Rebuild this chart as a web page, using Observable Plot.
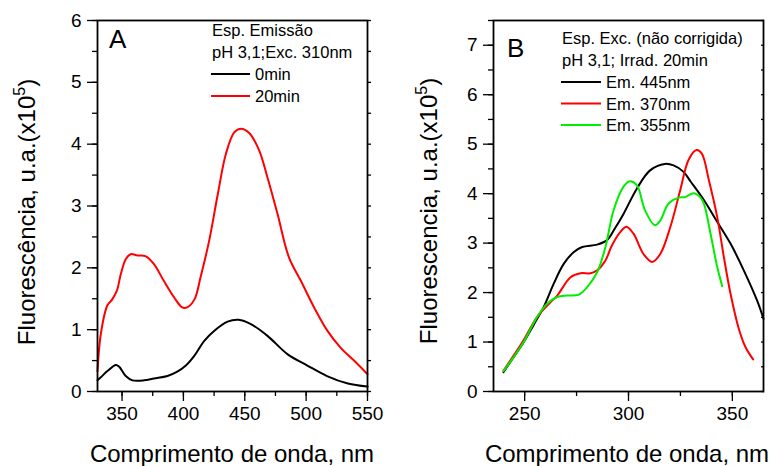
<!DOCTYPE html>
<html><head><meta charset="utf-8">
<script src="https://cdn.jsdelivr.net/npm/d3@7"></script>
<script src="https://cdn.jsdelivr.net/npm/@observablehq/plot@0.6"></script>
<style>
html,body{margin:0;padding:0;background:#fff;}
#wrap{position:relative;width:773px;height:466px;overflow:hidden;font-family:Arial,"Liberation Sans",sans-serif;}
#wrap svg{position:absolute;top:0;}
</style></head><body>
<div id="wrap"></div>
<script>
// ---- Panel A: emission spectra ----
const aWave0 = [330,332.7,338,345,347.7,353,358.5,368,376,387,395,402,409,417,425,436,445,455,468.5,485,501,517,534,550];
const aInt0  = [0.18,0.23,0.33,0.43,0.40,0.25,0.18,0.18,0.21,0.25,0.32,0.42,0.58,0.82,0.98,1.13,1.16,1.09,0.90,0.60,0.42,0.25,0.13,0.08];
const aWave20 = [330,332.7,338,342,345.8,349,353,357,362.6,369,376,384,392.5,399,403,409,414,421,428,434.6,441.4,447,453.6,461.7,468.5,476.7,486,495.7,506.5,517.4,528,539,550];
const aInt20  = [0.33,0.93,1.39,1.49,1.63,1.90,2.14,2.22,2.20,2.19,2.06,1.79,1.52,1.36,1.36,1.49,1.85,2.44,3.19,3.84,4.19,4.25,4.18,3.90,3.46,2.87,2.17,1.79,1.36,0.98,0.71,0.50,0.28];
const aLegend = ["0min","20min"];
const aXTicks = [350,400,450,500,550];
const aYTicks = [0,1,2,3,4,5,6];

// ---- Panel B: excitation spectra ----
const bWave445 = [239.8,244.6,249.6,254.4,259.2,264,268.8,273.7,277.7,284.9,289.7,293.5,297.6,304,310.4,317.5,321.7,326.5,330,336.3,342.7,349.1,355.5,361.9,365];
const bInt445  = [0.39,0.69,1.00,1.35,1.71,2.18,2.58,2.82,2.92,2.97,3.06,3.30,3.59,4.10,4.47,4.60,4.57,4.44,4.24,3.87,3.43,2.99,2.45,1.84,1.47];
const bWave370 = [239.8,244.6,249.4,255.9,262.3,265.7,272.1,276.9,281.7,284.9,288.9,292,296,299,302.4,307.2,311.4,315.3,320.1,324.9,328.9,332.7,335.3,338.7,342.7,345.9,349.1,353.1,356.3,360];
const bInt370  = [0.42,0.72,1.03,1.50,1.80,1.94,2.31,2.39,2.39,2.45,2.65,2.95,3.22,3.33,3.19,2.78,2.62,2.78,3.32,4.07,4.68,4.88,4.81,4.27,3.53,2.72,1.98,1.27,0.90,0.65];
const bWave355 = [239.8,244.6,249.4,255.9,260.7,265.7,270.5,276.1,280.1,284.9,288.9,292.8,297.6,300.6,304,308,312.7,315.3,319.3,324.2,327.3,331.4,334.5,336.3,339.5,342.7,345.1];
const bInt355  = [0.41,0.69,0.99,1.50,1.77,1.91,1.94,1.96,2.11,2.41,2.92,3.66,4.14,4.25,4.17,3.66,3.36,3.46,3.80,3.92,3.93,4.01,3.93,3.80,3.19,2.52,2.13];
const bLegend = ["Em. 445nm","Em. 370nm","Em. 355nm"];
const bXTicks = [250,300,350];
const bYTicks = [0,1,2,3,4,5,6,7];

const zip = (xs, ys) => xs.map((x,i)=>({x, y: ys[i]}));
const FONT = 'Arial,"Liberation Sans",sans-serif';

function panel({width, marginLeft, marginRight, xDomain, yDomain, xTicks, yTicks, xMinor, yMinor, rightDx, series}) {
  return Plot.plot({
    width, height: 466,
    marginLeft, marginRight, marginTop: 20, marginBottom: 75,
    style: {fontFamily: FONT, fontSize: "19px", color: "#000", background: "transparent", overflow: "visible"},
    x: {domain: xDomain, label: null},
    y: {domain: yDomain, label: null},
    marks: [
      Plot.axisY(yMinor, {anchor: "left", tickSize: 5, text: null, label: null, stroke: "#000", strokeWidth: 1.3}),
      Plot.axisY(yTicks, {anchor: "left", tickSize: 10, tickPadding: 6, tickFormat: "d", label: null, stroke: "#000", strokeWidth: 1.3, fontSize: 19}),
      Plot.axisY(yMinor, {anchor: "right", tickSize: 3, dx: rightDx, text: null, label: null, stroke: "#000", strokeWidth: 1.3}),
      Plot.axisX(xMinor, {anchor: "bottom", tickSize: 5, text: null, label: null, stroke: "#000", strokeWidth: 1.3}),
      Plot.axisX(xTicks, {anchor: "bottom", tickSize: 10, tickPadding: 5, tickFormat: "d", label: null, stroke: "#000", strokeWidth: 1.3, fontSize: 19}),
      ...series.map(s => Plot.line(s.data, {x: "x", y: "y", stroke: s.color, strokeWidth: 2, curve: "catmull-rom"})),
      Plot.frame({stroke: "#000", strokeWidth: 1.8})
    ]
  });
}

const wrap = document.getElementById("wrap");

const pA = panel({
  width: 390, marginLeft: 97, marginRight: 23,
  xDomain: [330, 550], yDomain: [0, 6],
  xTicks: aXTicks, yTicks: aYTicks,
  xMinor: d3.range(350, 551, 25), yMinor: d3.range(0, 6.01, 0.5), rightDx: 0,
  series: [{data: zip(aWave0, aInt0), color: "#000"}, {data: zip(aWave20, aInt20), color: "#ff0000"}]
});
pA.style.left = "0px";
wrap.appendChild(pA);

const pB = panel({
  width: 383, marginLeft: 103, marginRight: 10,
  xDomain: [235, 365], yDomain: [0, 7.5],
  xTicks: bXTicks, yTicks: bYTicks,
  xMinor: d3.range(250, 351, 25), yMinor: d3.range(0, 7.51, 0.5), rightDx: -3,
  series: [{data: zip(bWave445, bInt445), color: "#000"}, {data: zip(bWave370, bInt370), color: "#ff0000"}, {data: zip(bWave355, bInt355), color: "#00ee00"}]
});
pB.style.left = "390px";
wrap.appendChild(pB);

// ---- overlay text: titles, legends, panel labels ----
const ov = d3.select(wrap).append("svg").attr("width", 773).attr("height", 466).style("left", "0px")
  .attr("font-family", FONT).attr("fill", "#000");

function ylabel(cx, cy, label) {
  const t = ov.append("text").attr("transform", `translate(${cx},${cy}) rotate(-90)`)
    .attr("text-anchor", "middle").attr("font-size", 24);
  t.append("tspan").text(label);
  t.append("tspan").attr("font-size", 16).attr("dy", -10).text("5");
  t.append("tspan").attr("dy", 10).text(")");
}
ylabel(35, 212, "Fluorescência, u.a.(x10");
ylabel(437, 211, "Fluorescencia, u.a.(x10");

ov.append("text").attr("x", 232).attr("y", 462).attr("text-anchor", "middle").attr("font-size", 24).text("Comprimento de onda, nm");
ov.append("text").attr("x", 627).attr("y", 462).attr("text-anchor", "middle").attr("font-size", 24).text("Comprimento de onda, nm");

ov.append("text").attr("x", 109).attr("y", 48).attr("font-size", 26).text("A");
ov.append("text").attr("x", 507).attr("y", 57).attr("font-size", 26).text("B");

// legend A
ov.append("text").attr("x", 212).attr("y", 36).attr("font-size", 16.5).text("Esp. Emissão");
ov.append("text").attr("x", 212).attr("y", 58).attr("font-size", 16.5).text("pH 3,1;Exc. 310nm");
const aCols = ["#000", "#ff0000"];
aLegend.forEach((lab, i) => {
  const y = 74 + i * 22;
  ov.append("line").attr("x1", 211).attr("x2", 250).attr("y1", y).attr("y2", y).attr("stroke", aCols[i]).attr("stroke-width", 2);
  ov.append("text").attr("x", 255).attr("y", y + 6).attr("font-size", 16.5).text(lab);
});

// legend B
ov.append("text").attr("x", 562).attr("y", 44).attr("font-size", 16.5).text("Esp. Exc. (não corrigida)");
ov.append("text").attr("x", 562).attr("y", 66).attr("font-size", 16.5).text("pH 3,1; Irrad. 20min");
const bCols = ["#000", "#ff0000", "#00ee00"];
bLegend.forEach((lab, i) => {
  const y = 82 + i * 21.5;
  ov.append("line").attr("x1", 561).attr("x2", 601).attr("y1", y).attr("y2", y).attr("stroke", bCols[i]).attr("stroke-width", 2);
  ov.append("text").attr("x", 606).attr("y", y + 6).attr("font-size", 16.5).text(lab);
});
</script>
</body></html>
